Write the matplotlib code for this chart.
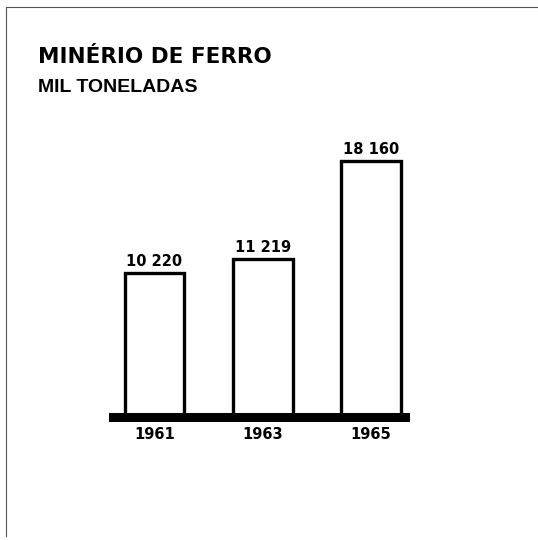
import matplotlib
matplotlib.use("Agg")
import matplotlib.pyplot as plt
from matplotlib.lines import Line2D

# data
years = ["1961", "1963", "1965"]
values = [10220, 11219, 18160]
value_labels = ["10 220", "11 219", "18 160"]
title = "MINÉRIO DE FERRO"
subtitle = "MIL TONELADAS"

fig = plt.figure(figsize=(5.38, 5.40), dpi=100)
fig.patch.set_facecolor("white")

# axes: x from px 113 to 405, y=0 at px 417
W, H = 538, 540
ax = fig.add_axes([113 / W, (H - 417) / H, (405 - 113) / W, (417 - 100) / H])
ax.set_xlim(-0.383, 2.314)
ax.set_ylim(0, 317 / 0.0141)
ax.axis("off")

x = range(len(years))
ax.bar(x, values, width=0.55, facecolor="white", edgecolor="black", linewidth=2.4, zorder=2)
ax.axhline(0, color="black", linewidth=6.5, zorder=3, clip_on=False)

for i, (v, lab) in enumerate(zip(values, value_labels)):
    ax.annotate(lab, (i, v), xytext=(0, 3), textcoords="offset points", ha="center", va="bottom",
                fontsize=10.5, fontweight="bold")
    ax.annotate(years[i], (i, 0), xytext=(0, -7), textcoords="offset points", ha="center", va="top",
                fontsize=10.5, fontweight="bold")

fig.text(38 / W, 1 - 63 / H, title, fontsize=15.5, fontweight="heavy", va="baseline")
fig.text(38 / W, 1 - 92 / H, subtitle, fontsize=14, fontweight="bold",
         family=["Liberation Sans", "DejaVu Sans"], va="baseline")

# frame of the scanned page
fig.add_artist(Line2D([6 / W, 6 / W], [1 - 8 / H, 1 - 536 / H], color="#555555", linewidth=0.8))
fig.add_artist(Line2D([6 / W, 1], [1 - 7 / H, 1 - 7 / H], color="#555555", linewidth=0.8))

fig.savefig("out.png", dpi=100)
